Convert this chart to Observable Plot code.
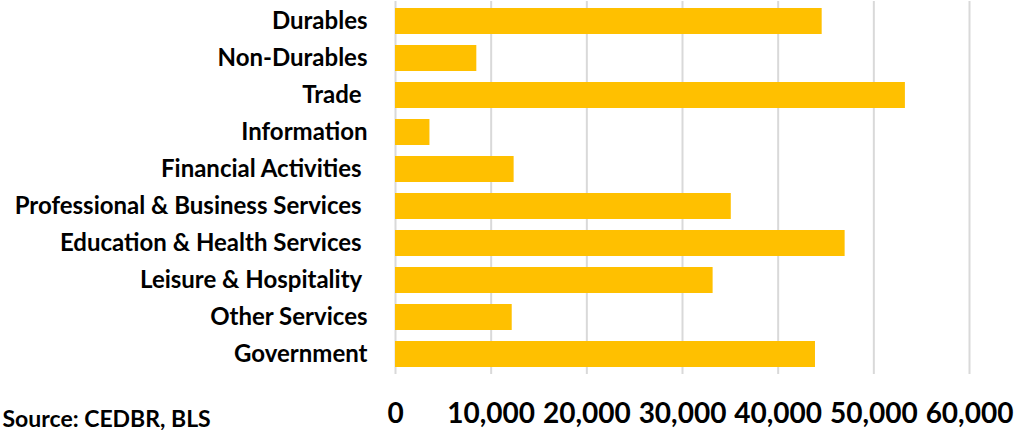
<!DOCTYPE html>
<html>
<head>
<meta charset="utf-8">
<script src="https://cdn.jsdelivr.net/npm/d3@7"></script>
<script src="https://cdn.jsdelivr.net/npm/@observablehq/plot@0.6"></script>
<style>
  html, body { margin: 0; padding: 0; background: #fff; overflow: hidden; }
  #chart svg text { white-space: pre; }
  #chart g[aria-label="y-axis tick label"] { font-size: 24px; }
  #chart g[aria-label="x-axis tick label"] { font-size: 28px; }
</style>
</head>
<body>
<div id="chart"></div>
<script>
const categories = [
  "Durables",
  "Non-Durables",
  "Trade ",
  "Information",
  "Financial Activities ",
  "Professional & Business Services ",
  "Education & Health Services ",
  "Leisure & Hospitality ",
  "Other Services",
  "Government"
];
const values = [44600, 8500, 53300, 3600, 12400, 35100, 47000, 33200, 12200, 43900];
const xTicks = [0, 10000, 20000, 30000, 40000, 50000, 60000];
const source = "Source: CEDBR, BLS";

const data = categories.map((c, i) => ({category: c, value: values[i]}));

const chart = Plot.plot({
  width: 1015,
  height: 430,
  marginLeft: 395,
  marginRight: 46,
  marginTop: 1,
  marginBottom: 56,
  style: {fontFamily: "Lato", fontWeight: 700, color: "#000", background: "#fff", overflow: "visible"},
  x: {domain: [0, 60000], label: null},
  y: {domain: categories, paddingInner: 0.3, paddingOuter: 0.16, label: null},
  marks: [
    Plot.gridX(xTicks, {stroke: "#d9d9d9", strokeWidth: 2, strokeOpacity: 1}),
    Plot.barX(data, {x: "value", y: "category", fill: "#FFC000"}),
    Plot.axisY({tickSize: 0, tickPadding: 28, fill: "#000"}),
    Plot.axisX(xTicks, {tickSize: 0, tickPadding: 29, tickFormat: d3.format(","), fill: "#000"}),
    Plot.text([source], {frameAnchor: "bottom-left", dx: -393, dy: 52, textAnchor: "start", fontSize: 23, fill: "#000"})
  ]
});
document.getElementById("chart").appendChild(chart);
</script>
</body>
</html>
